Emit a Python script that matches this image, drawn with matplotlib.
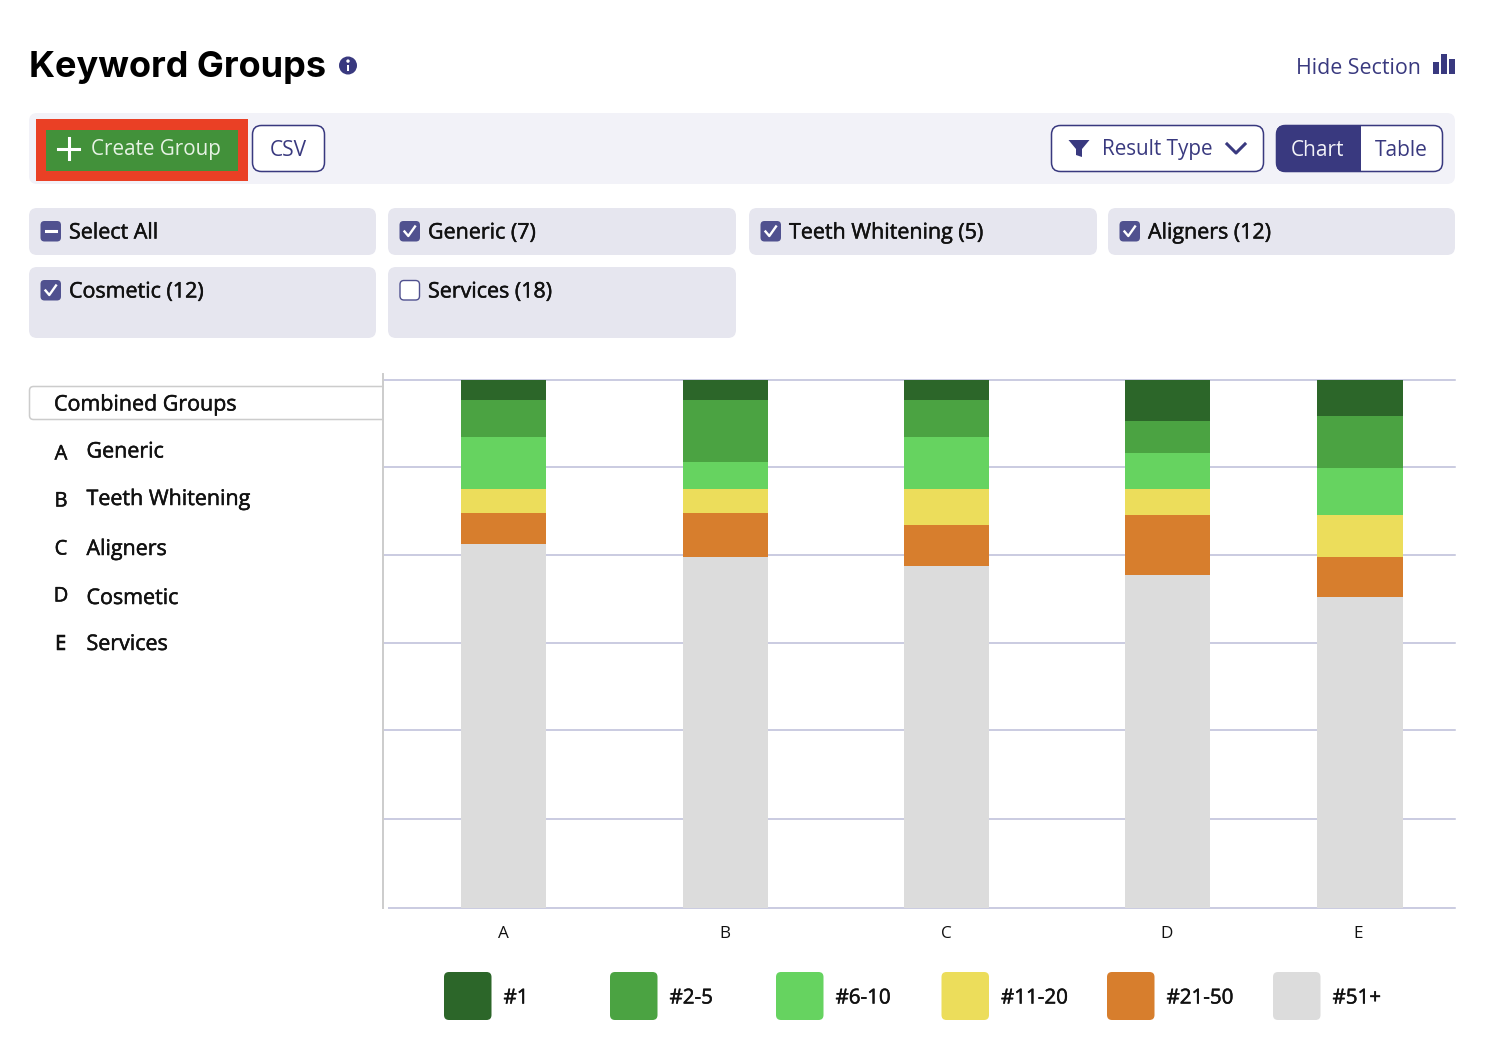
import matplotlib
matplotlib.use("Agg")
import matplotlib.pyplot as plt
import matplotlib.patheffects as pe
from matplotlib.patches import FancyBboxPatch, Rectangle, Polygon, Circle

# ---- data ----
categories = ["A", "B", "C", "D", "E"]
group_names = ["Generic", "Teeth Whitening", "Aligners", "Cosmetic", "Services"]
series_labels = ["#1", "#2-5", "#6-10", "#11-20", "#21-50", "#51+"]
rank_1 = [3.8, 3.8, 3.8, 7.7, 6.8]
rank_2_5 = [7.0, 11.7, 7.0, 6.15, 9.85]
rank_6_10 = [9.85, 5.1, 9.85, 6.8, 9.0]
rank_11_20 = [4.55, 4.55, 6.9, 5.0, 7.85]
rank_21_50 = [5.9, 8.3, 7.7, 11.3, 7.6]
rank_51 = [68.9, 66.55, 64.75, 63.05, 58.9]
filter_labels = ["Select All", "Generic (7)", "Teeth Whitening (5)", "Aligners (12)",
                 "Cosmetic (12)", "Services (18)"]

# ---- styles / layout ----
colors = ["#2c6629", "#4ba342", "#66d360", "#ecdd5b", "#d77e2d", "#dcdcdc"]
NAVY = "#39397f"
BOX = "#50518f"
TXT = "#111111"
GRID = "#bcbdd8"
FONT = "Open Sans"
W, H = 1490, 1062
plt.rcParams["font.family"] = [FONT, "DejaVu Sans"]
bar_pos = [0.002, 1.006, 2.004, 2.998, 3.869]   # the last bar sits closer in the reference
label_pos = [0, 1, 2, 2.995, 3.86]
grid_pos = [0, 16.86, 33.7, 50.2, 66.9, 83.5, 100]

fig = plt.figure(figsize=(W / 100, H / 100), dpi=100, facecolor="white")

# ---- chart ----
ax = fig.add_axes([384 / W, (H - 908) / H, (1455 - 384) / W, 528 / H])
ax.set_xlim((384 - 503) / 221.5, (1455 - 503) / 221.5)
ax.set_ylim(0, 100)
stack = [rank_51, rank_21_50, rank_11_20, rank_6_10, rank_2_5, rank_1]
stack_colors = colors[::-1]
bottom = [0] * len(categories)
for vals, c in zip(stack, stack_colors):
    ax.bar(bar_pos, vals, width=0.384, bottom=bottom, color=c, linewidth=0, zorder=3)
    bottom = [b + v for b, v in zip(bottom, vals)]
ax.set_yticks(grid_pos)
ax.set_yticklabels([])
ax.grid(axis="y", color=GRID, linewidth=1.1, zorder=1)
for gl in ax.get_ygridlines():
    gl.set_clip_on(False)
ax.set_axisbelow(True)
ax.set_xticks(label_pos)
ax.set_xticklabels(categories, fontsize=12.3, color=TXT)
ax.tick_params(axis="both", length=0)
ax.tick_params(axis="x", pad=13)
for s in ax.spines.values():
    s.set_visible(False)

# ---- interface around the chart ----
ui = fig.add_axes([0, 0, 1, 1], facecolor="none")
ui.set_xlim(0, W)
ui.set_ylim(H, 0)
ui.axis("off")


def box(x0, y0, x1, y1, r=0, fc="none", ec="none", lw=0.0, z=2):
    p = FancyBboxPatch((x0, y0), x1 - x0, y1 - y0,
                       boxstyle=f"round,pad=0,rounding_size={r}" if r else "square,pad=0",
                       fc=fc, ec=ec, lw=lw, zorder=z)
    ui.add_patch(p)
    return p


def text(x, y, s, size=15.45, color=TXT, ha="left", bold=False, **kw):
    t = ui.text(x, y, s, fontsize=size, color=color, ha=ha, va="center", zorder=6, **kw)
    if bold:
        t.set_path_effects([pe.withStroke(linewidth=0.35, foreground=color)])
    return t


# header
text(29, 68, "Keyword Groups", size=26.0, color="#000000", family="Inter", fontweight="bold")
ui.add_patch(Circle((348, 65.5), 9, fc=NAVY, ec="none", zorder=3))
ui.add_patch(Rectangle((346.6, 64.5), 2.8, 6, fc="white", ec="none", zorder=4))
ui.add_patch(Circle((348, 61.1), 1.7, fc="white", ec="none", zorder=4))
text(1421, 68, "Hide Section", size=15.4, color=NAVY, ha="right")
for x0, x1, top in [(1433, 1439, 62), (1441, 1447, 54), (1449, 1455, 59)]:
    ui.add_patch(Rectangle((x0, top), x1 - x0, 74 - top, fc=NAVY, ec="none", zorder=3))

# toolbar
box(29, 113, 1455, 184, r=8, fc="#f2f2f8")
ui.add_patch(Rectangle((36, 119), 212, 62, fc="#ea4025", ec="none", zorder=3))
ui.add_patch(Rectangle((46, 130), 192, 41, fc="#42913a", ec="none", zorder=4))
ui.plot([58, 79], [148.5, 148.5], color="white", lw=2.2, zorder=5)
ui.plot([68.5, 68.5], [138, 159], color="white", lw=2.2, zorder=5)
text(91, 150, "Create Group", size=14.9, color="#e6f2e4")
box(252.5, 125.5, 324.5, 171.5, r=9, fc="white", ec=NAVY, lw=1.1, z=3)
text(288.5, 150, "CSV", size=15.0, color=NAVY, ha="center")
box(1051.5, 125.5, 1263.5, 171.5, r=9, fc="white", ec=NAVY, lw=1.1, z=3)
ui.add_patch(Polygon([(1068.5, 140), (1089.5, 140), (1082, 149), (1082, 157), (1076, 155), (1076, 149)],
                     closed=True, fc=NAVY, ec="none", zorder=5))
text(1101.5, 150, "Result Type", size=14.9, color=NAVY)
ui.plot([1227, 1236, 1245], [144, 153, 144], color=NAVY, lw=2.2, zorder=5)
box(1276.5, 125.5, 1442.5, 171.5, r=9, fc="white", ec=NAVY, lw=1.1, z=3)
dark = box(1276, 125, 1443, 172, r=9.5, fc=NAVY, z=4)
dark.set_clip_path(Rectangle((1270, 120), 91, 60, transform=ui.transData))
text(1317, 150, "Chart", size=15.0, color="#f2f2f8", ha="center")
text(1401, 150, "Table", size=15.0, color=NAVY, ha="center")

# filter pills
pills = [(29, 208, 376, 255), (388, 208, 736, 255), (749, 208, 1097, 255), (1108, 208, 1455, 255),
         (29, 267, 376, 338), (388, 267, 736, 338)]
for i, (lab, (x0, y0, x1, y1)) in enumerate(zip(filter_labels, pills)):
    box(x0, y0, x1, y1, r=8, fc="#e6e6ef")
    cx0, cy0 = x0 + 11.5, y0 + 13
    if i == 5:
        box(cx0 + 0.5, cy0 + 0.5, cx0 + 20, cy0 + 20, r=4, fc="white", ec=BOX, lw=1.0, z=3)
    else:
        box(cx0, cy0, cx0 + 20.5, cy0 + 20.5, r=4, fc=BOX, z=3)
        if i == 0:
            ui.plot([cx0 + 5, cx0 + 15.5], [cy0 + 10.2, cy0 + 10.2], color="white", lw=2.2, zorder=4)
        else:
            ui.plot([cx0 + 5, cx0 + 8.8, cx0 + 15.5], [cy0 + 10.5, cy0 + 15, cy0 + 5.5],
                    color="white", lw=1.7, zorder=4)
    text(x0 + 40, y0 + 25, lab, bold=True)

# left group list
box(29.5, 386.5, 395, 419.5, r=4, fc="white", ec="#cccccc", lw=1.1, z=2)
ui.add_patch(Rectangle((383.5, 383), 20, 42, fc="white", ec="none", zorder=2.5))
text(54, 405, "Combined Groups", bold=True)
letter_y = [454.5, 501.5, 549.5, 596.5, 644.5]
name_y = [452, 499.5, 549.5, 598.5, 644.5]
for c, n, ly, ny in zip(categories, group_names, letter_y, name_y):
    text(61, ly, c, size=14.5, ha="center", bold=True)
    text(86.5, ny, n, bold=True)

# axis lines of the chart panel
ui.plot([383, 383], [374, 908], color="#cccccc", lw=1.4, zorder=3)
ui.add_patch(Rectangle((384, 906), 4, 4, fc="white", ec="none", zorder=3))

# legend
legend_x = [444, 610, 776, 941.5, 1107, 1273]
for x, lab, c in zip(legend_x, series_labels, colors):
    box(x, 972, x + 47.5, 1020, r=5, fc=c)
    text(x + 59.5, 998, lab, size=14.8, bold=True)

fig.savefig("out.png", dpi=100, facecolor="white")
